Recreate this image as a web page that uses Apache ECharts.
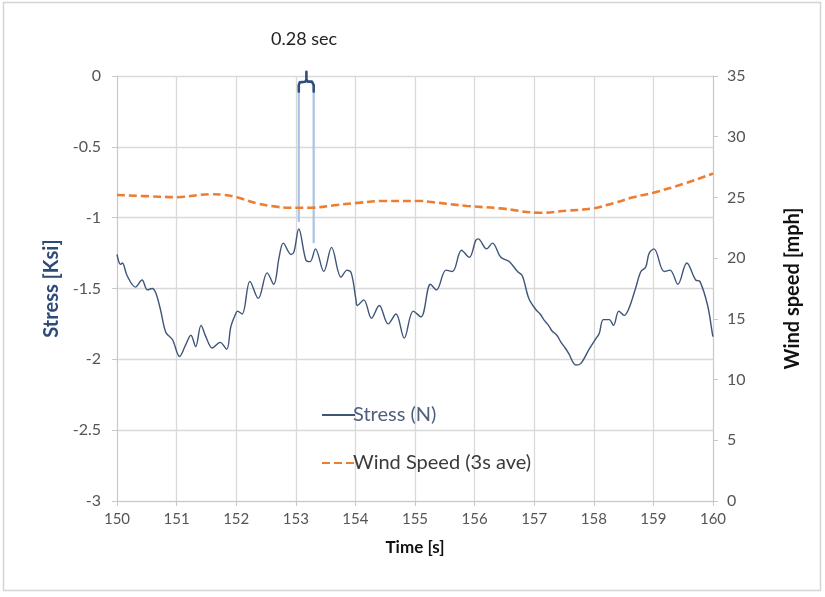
<!DOCTYPE html>
<html>
<head>
<meta charset="utf-8">
<script src="https://cdn.jsdelivr.net/npm/echarts@6/dist/echarts.min.js"></script>
<style>
html,body{margin:0;padding:0;background:#fff;}
#c{width:825px;height:597px;}
</style>
</head>
<body>
<div id="c"></div>
<script>
// Time ticks
const timeTicks = [150,151,152,153,154,155,156,157,158,159,160];
// Stress series: time [s], stress [Ksi]
const stressTime = [150.00,150.06,150.09,150.17,150.31,150.42,150.51,150.59,150.65,150.73,150.82,150.93,151.05,151.15,151.24,151.32,151.41,151.49,151.60,151.73,151.84,151.91,151.99,152.02,152.10,152.23,152.37,152.52,152.63,152.72,152.79,152.92,152.97,153.05,153.17,153.24,153.33,153.47,153.60,153.76,153.86,153.93,154.01,154.03,154.14,154.27,154.40,154.55,154.68,154.82,154.97,155.10,155.26,155.36,155.52,155.63,155.78,155.91,156.02,156.06,156.20,156.30,156.44,156.58,156.72,156.80,156.91,157.03,157.10,157.16,157.24,157.30,157.38,157.45,157.52,157.58,157.70,157.78,157.92,158.04,158.09,158.16,158.26,158.33,158.42,158.51,158.59,158.70,158.79,158.87,158.93,159.01,159.18,159.28,159.41,159.56,159.71,159.78,159.91,159.99,160.00];
const stressValues = [-1.26,-1.33,-1.32,-1.41,-1.49,-1.44,-1.51,-1.50,-1.53,-1.65,-1.81,-1.86,-1.98,-1.90,-1.83,-1.91,-1.76,-1.84,-1.92,-1.88,-1.93,-1.77,-1.68,-1.66,-1.68,-1.45,-1.57,-1.39,-1.47,-1.28,-1.18,-1.26,-1.24,-1.08,-1.30,-1.31,-1.22,-1.38,-1.21,-1.42,-1.37,-1.39,-1.58,-1.62,-1.58,-1.71,-1.62,-1.75,-1.68,-1.85,-1.66,-1.70,-1.47,-1.51,-1.37,-1.38,-1.23,-1.28,-1.16,-1.15,-1.22,-1.18,-1.28,-1.31,-1.38,-1.41,-1.57,-1.65,-1.68,-1.72,-1.76,-1.80,-1.83,-1.88,-1.92,-1.96,-2.04,-2.03,-1.93,-1.85,-1.82,-1.72,-1.72,-1.76,-1.66,-1.69,-1.64,-1.50,-1.38,-1.35,-1.25,-1.22,-1.38,-1.37,-1.47,-1.32,-1.44,-1.45,-1.62,-1.82,-1.84];
// Wind speed series: time [s], mph
const windTime = [150.00,150.72,151.00,151.56,151.81,152.01,152.34,152.67,152.90,153.24,153.69,154.08,154.47,155.08,155.31,155.87,156.43,157.10,157.55,157.99,158.33,158.66,159.00,159.50,159.98,160.00];
const windValues = [25.20,25.06,25.02,25.26,25.20,25.01,24.52,24.24,24.15,24.15,24.38,24.57,24.71,24.71,24.60,24.30,24.10,23.74,23.91,24.10,24.52,25.01,25.39,26.11,26.93,26.98];
// Annotation (0.28 sec interval)
const markStart = 153.05, markEnd = 153.30;
const markLeftBottom = -1.03, markRightBottom = -1.18, markTop = -0.11;
const annotationText = '0.28 sec';
const braceTime = [153.05,153.05,153.065,153.09,153.16,153.178,153.178,153.178,153.182,153.20,153.27,153.293,153.30,153.30];
const braceValues = [-0.11,-0.065,-0.045,-0.04,-0.04,-0.025,0.03,-0.025,-0.025,-0.04,-0.04,-0.045,-0.065,-0.11];

const zip = (a,b)=>a.map((v,i)=>[v,b[i]]);

const chart = echarts.init(document.getElementById('c'), null, {renderer:'canvas'});
const FONT = 'Lato';
chart.setOption({
  animation:false,
  backgroundColor:'#fff',
  textStyle:{fontFamily:FONT},
  graphic:[
    {type:'rect', shape:{x:3.5,y:2.5,width:817,height:588}, style:{fill:'none', stroke:'#d4d4d4', lineWidth:1.5}, silent:true, z:-10},
    {type:'text', left:271, top:30, style:{text:annotationText, fontFamily:FONT, fontSize:18, fill:'#222'}}
  ],
  grid:{left:117, right:112, top:76, bottom:96, containLabel:false},
  legend:{
    orient:'vertical', left:316, top:400, itemWidth:33, itemHeight:16, itemGap:28,
    itemStyle:{opacity:0},
    textStyle:{fontFamily:FONT, fontSize:20, padding:[0,0,0,-7]},
    data:[
      {name:'Stress (N)', textStyle:{color:'#4d5f7d'}},
      {name:'Wind Speed (3s ave)', textStyle:{color:'#3a3a3a'}}
    ]
  },
  xAxis:{
    type:'value', min:150, max:160, interval:1,
    name:'Time [s]', nameLocation:'middle', nameGap:38,
    nameTextStyle:{fontFamily:FONT, fontSize:17, fontWeight:'bold', color:'#111'},
    axisLine:{show:true, onZero:false, lineStyle:{color:'#c8c8c8'}},
    axisTick:{show:true, length:5, lineStyle:{color:'#c8c8c8'}},
    axisLabel:{color:'#555', fontSize:15, margin:11, fontFamily:FONT},
    splitLine:{show:true, lineStyle:{color:'#d9d9d9', width:1.3}}
  },
  yAxis:[
    {
      type:'value', min:-3, max:0, interval:0.5, position:'left',
      name:'Stress [Ksi]', nameLocation:'middle', nameGap:52, nameRotate:90,
      nameTextStyle:{fontFamily:FONT, fontSize:20, fontWeight:'bold', color:'#2f4a78'},
      axisLine:{show:true, onZero:false, lineStyle:{color:'#c8c8c8'}},
      axisTick:{show:true, length:5, lineStyle:{color:'#c8c8c8'}},
      axisLabel:{color:'#555', fontSize:16, margin:16, fontFamily:FONT},
      splitLine:{show:true, lineStyle:{color:'#d9d9d9', width:1.3}}
    },
    {
      type:'value', min:0, max:35, interval:5, position:'right',
      name:'Wind speed [mph]', nameLocation:'middle', nameGap:70, nameRotate:90,
      nameTextStyle:{fontFamily:FONT, fontSize:20, fontWeight:'bold', color:'#111'},
      axisLine:{show:true, onZero:false, lineStyle:{color:'#c8c8c8'}},
      axisTick:{show:true, length:5, lineStyle:{color:'#c8c8c8'}},
      axisLabel:{color:'#555', fontSize:16, margin:14, fontFamily:FONT},
      splitLine:{show:false}
    }
  ],
  series:[
    {
      name:'Stress (N)', type:'line', yAxisIndex:0, data:zip(stressTime, stressValues),
      symbol:'none', smooth:0.35, lineStyle:{color:'#3e5478', width:1.4}, itemStyle:{color:'#3e5478'}, z:3
    },
    {
      name:'Wind Speed (3s ave)', type:'line', yAxisIndex:1, data:zip(windTime, windValues),
      symbol:'none', smooth:0.4, lineStyle:{color:'#ed7d31', width:2.6, type:[8,4]}, itemStyle:{color:'#ed7d31'}, z:3
    },
    {
      name:'markLeft', type:'line', yAxisIndex:0, data:[[markStart,markTop],[markStart,markLeftBottom]],
      symbol:'none', lineStyle:{color:'#a8c3e6', width:2.2}, silent:true, z:2
    },
    {
      name:'markRight', type:'line', yAxisIndex:0, data:[[markEnd,markTop],[markEnd,markRightBottom]],
      symbol:'none', lineStyle:{color:'#a8c3e6', width:2.2}, silent:true, z:2
    },
    {
      name:'brace', type:'line', yAxisIndex:0, data:zip(braceTime, braceValues), clip:false,
      symbol:'none', lineStyle:{color:'#2f4f80', width:2.6, join:'round', cap:'round'}, silent:true, z:4
    }
  ]
});
</script>
</body>
</html>
